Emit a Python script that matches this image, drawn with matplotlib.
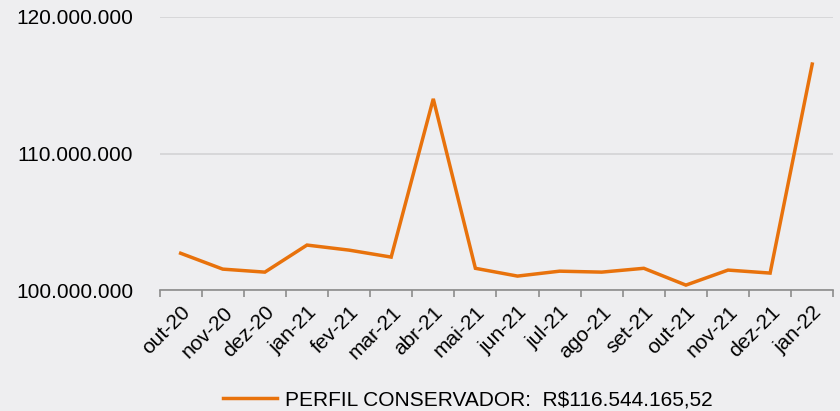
import matplotlib.pyplot as plt
import matplotlib.ticker as mticker

plt.rcParams['font.family'] = ['Liberation Sans', 'DejaVu Sans']

meses = ['out-20', 'nov-20', 'dez-20', 'jan-21', 'fev-21', 'mar-21', 'abr-21', 'mai-21',
         'jun-21', 'jul-21', 'ago-21', 'set-21', 'out-21', 'nov-21', 'dez-21', 'jan-22']
valores = [102.7, 101.54, 101.32, 103.3, 102.93, 102.42, 114.0, 101.6,
           101.03, 101.39, 101.32, 101.6, 100.37, 101.47, 101.25, 116.544165]
valores = [v * 1e6 for v in valores]
legenda = 'PERFIL CONSERVADOR:  R$116.544.165,52'

fundo = '#eeeef0'
laranja = '#e8720c'

fig = plt.figure(figsize=(8.4, 4.11), dpi=100, facecolor=fundo)
ax = fig.add_axes([0.19, 0.294, 0.802, 0.665])
ax.set_facecolor(fundo)

x = list(range(len(meses)))
ax.plot(x, valores, color=laranja, linewidth=2.5, label=legenda, solid_joinstyle='miter')

ax.set_xlim(-0.5, len(meses) - 0.5)
ax.set_ylim(100e6, 120e6)
ax.yaxis.set_major_locator(mticker.MultipleLocator(10e6))
ax.yaxis.set_major_formatter(mticker.FuncFormatter(lambda v, p: f'{v:,.0f}'.replace(',', '.')))
ax.grid(axis='y', color='#d3d3d5', linewidth=1.2)
ax.set_axisbelow(True)

for s in ['top', 'right', 'left']:
    ax.spines[s].set_visible(False)
ax.spines['bottom'].set_color('#8c8c8c')
ax.spines['bottom'].set_linewidth(1.2)

ax.set_xticks(x)
ax.set_xticklabels(meses, rotation=45, ha='right', rotation_mode='anchor', fontsize=15)
ax.tick_params(axis='x', which='major', length=0, pad=9)
ax.set_xticks([i - 0.5 for i in range(len(meses) + 1)], minor=True)
ax.tick_params(axis='x', which='minor', length=5, color='#8c8c8c', width=1.2)
ax.tick_params(axis='y', length=0, labelsize=15, pad=19)

fig.legend(loc='center', bbox_to_anchor=(0.557, 0.027), frameon=False, fontsize=15,
           handlelength=2.6, handletextpad=0.4)

fig.savefig('out.png', dpi=100, facecolor=fundo)
